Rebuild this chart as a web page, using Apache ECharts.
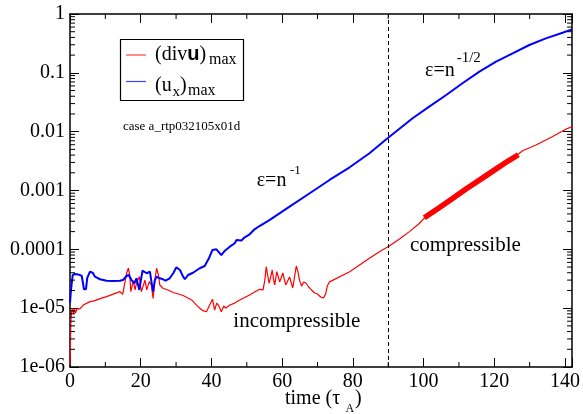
<!DOCTYPE html>
<html><head><meta charset="utf-8">
<script src="https://cdn.jsdelivr.net/npm/echarts@6/dist/echarts.min.js"></script>
<style>html,body{margin:0;padding:0;background:#fff}#c{width:583px;height:414px}</style>
</head><body><div id="c"></div>
<script>
// ---- data ----
const xTickLabels = [0, 20, 40, 60, 80, 100, 120, 140];
const yTickLabels = ['1e-06', '1e-05', '0.0001', '0.001', '0.01', '0.1', '1'];
const xMinorTicks = [10, 30, 50, 70, 90, 110, 130];
const yMinorTicks = [
  2e-6,3e-6,4e-6,5e-6,6e-6,7e-6,8e-6,9e-6,
  2e-5,3e-5,4e-5,5e-5,6e-5,7e-5,8e-5,9e-5,
  2e-4,3e-4,4e-4,5e-4,6e-4,7e-4,8e-4,9e-4,
  2e-3,3e-3,4e-3,5e-3,6e-3,7e-3,8e-3,9e-3,
  2e-2,3e-2,4e-2,5e-2,6e-2,7e-2,8e-2,9e-2,
  0.2,0.3,0.4,0.5,0.6,0.7,0.8,0.9];
const dividerTime = 90;

// (u_x)max  — blue
const timeUx = [0,0.28,0.76,1.41,2.26,3.30,3.67,3.95,4.52,4.88,5.65,6.49,7.06,8.47,10.36,12.1,14.1,15.0,16.0,16.6,
  17.4,18.2,18.8,19.6,20.5,21.7,22.6,23.1,23.5,24.0,24.5,25.4,26.3,27.0,28.2,29.2,30.1,31.1,32.0,32.5,
  33.4,34.8,36.7,38.1,39.3,40.3,41.4,42.2,42.8,43.8,45.2,46.6,47.1,48.5,49.4,50.8,52.2,53.6,56.5,62.1,
  67.8,73.4,79.1,84.7,89.2,96.9,101.6,106.4,111.0,115.8,120.5,125.2,129.9,134.6,139.3,142];
const uxMax = [1.22e-5,2.04e-5,3.66e-5,3.81e-5,3.75e-5,3.56e-5,2.68e-5,2.09e-5,2.1e-5,3.26e-5,4.17e-5,3.96e-5,3.43e-5,3.10e-5,2.93e-5,2.9e-5,2.93e-5,3.01e-5,3.52e-5,3.66e-5,
  3.0e-5,2.65e-5,3.22e-5,2.04e-5,4.33e-5,3.92e-5,4.17e-5,2.65e-5,1.91e-5,3.0e-5,3.43e-5,3.22e-5,3.10e-5,2.93e-5,3.22e-5,3.92e-5,4.95e-5,4.46e-5,3.43e-5,3.1e-5,
  3.66e-5,4.0e-5,4.77e-5,5.21e-5,7.05e-5,9.75e-5,1.0e-4,8.77e-5,8.0e-5,9.48e-5,1.11e-4,1.27e-4,1.44e-4,1.41e-4,1.60e-4,1.80e-4,2.19e-4,2.49e-4,3.16e-4,5.31e-4,
  8.98e-4,1.51e-3,2.48e-3,4.29e-3,7.22e-3,1.69e-2,2.66e-2,4.20e-2,6.64e-2,0.105,0.155,0.215,0.297,0.386,0.481,0.549];

// (div u)max — red, thin trace
const timeDiv = [0,0.14,0.28,0.48,0.7,0.99,1.27,1.55,1.98,2.34,2.82,3.75,5.65,6.58,9.40,10.36,14.1,14.9,15.4,16.0,
  16.5,16.9,17.2,17.9,18.4,18.8,19.6,20.2,21.2,21.7,22.4,23.0,23.5,24.0,24.5,25.0,25.4,26.3,27.7,29.2,
  32.0,34.4,36.2,37.6,38.6,39.5,40.3,40.9,41.5,42.1,42.8,43.5,44.0,45.2,46.6,48.0,49.4,50.8,52.2,53.6,
  54.6,55.1,55.5,55.9,56.3,56.7,57.2,57.6,57.9,58.5,59.0,59.3,60.2,61.0,62.1,63.0,64.0,64.5,64.9,65.5,
  66.1,66.8,67.5,68.3,69.2,70.0,70.9,71.7,72.3,72.8,73.4,79.1,84.7,87.5,90.3,93.2,96.0,98.8,100.0,
  105.0,110.0,115.0,120.0,125.0,127.0,128.0,131.8,136.4,140.2,142];
const divuMax = [1.08e-6,2.88e-6,6.8e-6,8.7e-6,1.0e-5,7.96e-6,9.7e-6,8.28e-6,9.7e-6,9.3e-6,9.7e-6,1.13e-5,1.29e-5,1.32e-5,1.51e-5,1.57e-5,1.91e-5,1.72e-5,2.48e-5,3.92e-5,
  4.77e-5,3.66e-5,1.91e-5,2.9e-5,2.04e-5,2.65e-5,3.43e-5,1.91e-5,3.0e-5,2.04e-5,2.82e-5,2.48e-5,1.47e-5,3.0e-5,4.77e-5,3.66e-5,2.48e-5,2.18e-5,2.04e-5,1.85e-5,
  1.64e-5,1.38e-5,1.06e-5,9.06e-6,8.7e-6,1.13e-5,1.42e-5,9.3e-6,1.22e-5,1.09e-5,8.7e-6,1.09e-5,1.0e-5,1.13e-5,1.22e-5,1.38e-5,1.52e-5,1.68e-5,1.88e-5,2.09e-5,
  2.04e-5,3.0e-5,5.07e-5,3.66e-5,2.65e-5,3.26e-5,4.46e-5,3.0e-5,2.48e-5,4.17e-5,3.26e-5,2.79e-5,3.96e-5,2.48e-5,3.39e-5,2.2e-5,5.21e-5,4.1e-5,3.0e-5,2.37e-5,
  2.79e-5,2.65e-5,2.29e-5,2.04e-5,1.81e-5,1.74e-5,1.55e-5,1.49e-5,1.75e-5,2.4e-5,2.8e-5,4.17e-5,7.05e-5,9.12e-5,1.14e-4,1.5e-4,2.0e-4,2.75e-4,3.3e-4,
  5.4e-4,8.7e-4,1.40e-3,2.15e-3,3.45e-3,4.25e-3,4.75e-3,5.94e-3,8.22e-3,1.10e-2,1.22e-2];

// (div u)max — red, noisy band (centre of the band between t=100 and t=127)
const timeBand = [100.2, 104, 108, 112, 116, 120, 124, 126.8];
const divuBand = [3.45e-4, 4.9e-4, 7.2e-4, 1.06e-3, 1.53e-3, 2.22e-3, 3.2e-3, 4.05e-3];

// ---- chart ----
const SERIF = 'Liberation Serif';
const zip = (xs, ys) => xs.map((x, i) => [x, ys[i]]);
const chart = echarts.init(document.getElementById('c'), null, {renderer: 'canvas'});

const frameLine = {show: true, onZero: false, lineStyle: {color: '#000', width: 1.5}};
const majorTick = {show: true, inside: true, length: 9, lineStyle: {color: '#000', width: 1}};
const xBase = {type: 'value', min: 0, max: 142, interval: 20, axisLine: frameLine, axisTick: majorTick, splitLine: {show: false}};
const yBase = {type: 'log', logBase: 10, min: 1e-6, max: 1, splitNumber: 6, axisLine: frameLine, axisTick: majorTick, splitLine: {show: false}};

function minorY(params, api) {
  const cs = params.coordSys;
  const p = api.coord([0, api.value(1)]);
  const st = {stroke: '#000', lineWidth: 1};
  return {type: 'group', children: [
    {type: 'line', shape: {x1: cs.x, y1: p[1], x2: cs.x + 5, y2: p[1]}, style: st},
    {type: 'line', shape: {x1: cs.x + cs.width, y1: p[1], x2: cs.x + cs.width - 5, y2: p[1]}, style: st}
  ]};
}
function minorX(params, api) {
  const cs = params.coordSys;
  const p = api.coord([api.value(0), 1e-6]);
  const st = {stroke: '#000', lineWidth: 1};
  return {type: 'group', children: [
    {type: 'line', shape: {x1: p[0], y1: cs.y + cs.height, x2: p[0], y2: cs.y + cs.height - 5}, style: st},
    {type: 'line', shape: {x1: p[0], y1: cs.y, x2: p[0], y2: cs.y + 5}, style: st}
  ]};
}

function txt(text, x, y, size, extra) {
  return Object.assign({type: 'text', silent: true, z: 100, style: Object.assign({
    text: text, x: x, y: y, fill: '#000', align: 'left', verticalAlign: 'middle',
    fontFamily: SERIF, fontSize: size}, extra || {})});
}
const tickFont = {color: '#000', fontFamily: SERIF, fontSize: 20, margin: 5};

const option = {
  animation: false,
  backgroundColor: '#fff',
  textStyle: {fontFamily: SERIF},
  grid: {left: 70, right: 10, top: 14, bottom: 47},
  xAxis: [
    Object.assign({}, xBase, {position: 'bottom',
      axisLabel: Object.assign({}, tickFont, {formatter: v => (xTickLabels.indexOf(v) >= 0 ? String(v) : '')})}),
    Object.assign({}, xBase, {position: 'top', axisLabel: {show: false}})
  ],
  yAxis: [
    Object.assign({}, yBase, {position: 'left',
      axisLabel: Object.assign({}, tickFont, {formatter: v => yTickLabels[Math.round(Math.log10(v)) + 6]})}),
    Object.assign({}, yBase, {position: 'right', axisLabel: {show: false}})
  ],
  series: [
    {name: 'divu', type: 'line', data: zip(timeDiv, divuMax), showSymbol: false, symbol: 'none',
      lineStyle: {color: '#ff0000', width: 1.2}, z: 3,
      markLine: {silent: true, symbol: 'none', label: {show: false},
        lineStyle: {color: '#000', type: [4, 3], width: 1}, data: [{xAxis: dividerTime}]}},
    {name: 'divuBand', type: 'line', data: zip(timeBand, divuBand), showSymbol: false, symbol: 'none',
      lineStyle: {color: '#ff0000', width: 5.5, cap: 'butt'}, z: 3},
    {name: 'ux', type: 'line', data: zip(timeUx, uxMax), showSymbol: false, symbol: 'none',
      lineStyle: {color: '#0000ff', width: 2}, z: 4},
    {type: 'custom', data: yMinorTicks.map(v => [0, v]), renderItem: minorY, silent: true, z: 5},
    {type: 'custom', data: xMinorTicks.map(v => [v, 1e-6]), renderItem: minorX, silent: true, z: 5}
  ],
  graphic: [
    {type: 'rect', silent: true, z: 90, shape: {x: 120.5, y: 39.5, width: 123, height: 61},
      style: {fill: '#fff', stroke: '#000', lineWidth: 1.2}},
    {type: 'line', silent: true, z: 95, shape: {x1: 126, y1: 55, x2: 146, y2: 55}, style: {stroke: '#ff4040', lineWidth: 1.2}},
    {type: 'line', silent: true, z: 95, shape: {x1: 126, y1: 81.5, x2: 146, y2: 81.5}, style: {stroke: '#4040ff', lineWidth: 1.2}},
    txt('{a|(div}{b|u}{a|)}', 155, 54.7, 20, {rich: {
      a: {fontFamily: SERIF, fontSize: 20, color: '#000'},
      b: {fontFamily: 'Liberation Sans', fontWeight: 'bold', fontSize: 20, color: '#000'}}}),
    txt('max', 209, 59.6, 16),
    txt('(u', 155, 85.7, 20),
    txt('x', 172.5, 92.4, 15),
    txt(')', 180, 85.7, 20),
    txt('max', 188, 91, 16),
    txt('case a_rtp032105x01d', 123, 126.6, 13),
    txt('ε=n', 256.7, 181.2, 20),
    txt('-1', 290, 170.6, 13),
    txt('ε=n', 425, 71.2, 20),
    txt('-1/2', 456.7, 57.6, 15),
    txt('compressible', 410, 245.9, 21),
    txt('incompressible', 233.3, 321.2, 21),
    txt('time (τ', 285, 399.2, 20),
    txt('A', 345.5, 409, 12),
    txt(')', 355, 399.2, 20)
  ]
};
chart.setOption(option);
</script>
</body></html>
